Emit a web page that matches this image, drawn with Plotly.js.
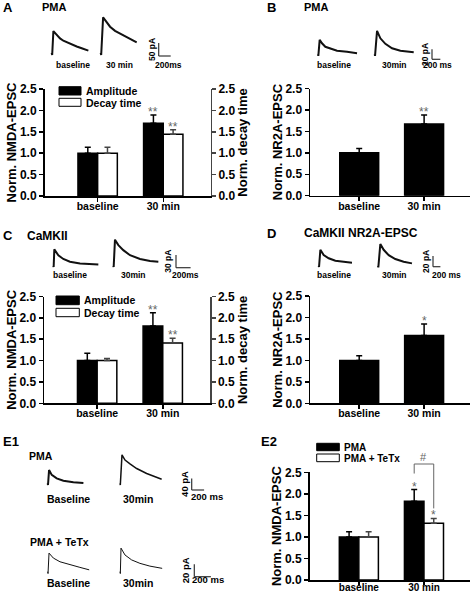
<!DOCTYPE html>
<html><head><meta charset="utf-8">
<script src="https://cdn.plot.ly/plotly-3.0.1.min.js"></script>
<style>html,body{margin:0;padding:0;background:#fff}</style>
</head><body><div id="chart" style="width:474px;height:594px"></div>
<script>
// ================= DATA =================
const categories = ['baseline', '30 min'];

// A: PMA, NMDA-EPSC amplitude and decay time (normalised)
const aAmplitude = [1.0, 1.70];
const aAmplitudeErr = [0.14, 0.19];
const aAmplitudeSig = ['', '**'];
const aDecay = [1.0, 1.44];
const aDecayErr = [0.14, 0.11];
const aDecaySig = ['', '**'];

// B: PMA, NR2A-EPSC
const bNR2A = [1.0, 1.67];
const bNR2AErr = [0.10, 0.21];
const bNR2ASig = ['', '**'];

// C: CaMKII, NMDA-EPSC amplitude and decay time
const cAmplitude = [1.0, 1.81];
const cAmplitudeErr = [0.17, 0.31];
const cAmplitudeSig = ['', '**'];
const cDecay = [1.0, 1.41];
const cDecayErr = [0.05, 0.11];
const cDecaySig = ['', '**'];

// D: CaMKII, NR2A-EPSC
const dNR2A = [1.0, 1.58];
const dNR2AErr = [0.11, 0.27];
const dNR2ASig = ['', '*'];

// E2: PMA vs PMA + TeTx
const e2PMA = [1.0, 1.83];
const e2PMAErr = [0.12, 0.27];
const e2PMASig = ['', '*'];
const e2TeTx = [1.0, 1.32];
const e2TeTxErr = [0.12, 0.11];
const e2TeTxSig = ['', '*'];

// Example EPSC traces (time in ms, current in pA, drawn upward as in the figure)
const aBase_ms = [0, 8, 28, 83, 139, 194, 250, 333, 417, 500, 611];
const aBase_pA = [0, -9, 83, 68, 55, 46, 40, 32, 24, 17, 8];
const a30_ms = [0, 8, 40, 100, 156, 239, 322, 433, 600];
const a30_pA = [0, -9, 136, 115, 100, 84, 74, 61, 40];
const bBase_ms = [0, 8, 40, 96, 176, 296, 456, 696, 936];
const bBase_pA = [0, -3, 29, 22, 15, 11, 7, 5, 2];
const b30_ms = [0, 8, 56, 136, 256, 416, 616, 936];
const b30_pA = [0, -3, 47, 32, 21, 12, 7, 4];
const cBase_ms = [0, 5, 14, 69, 137, 228, 366, 503, 617];
const cBase_pA = [0, -3, 39, 25, 16, 9.5, 5.5, 4, 3];
const c30_ms = [0, 5, 23, 69, 137, 229, 366, 503, 617];
const c30_pA = [0, -3, 62, 49, 37, 25, 16, 11, 9.5];
const dBase_ms = [0, 9, 45, 135, 270, 450, 675, 900];
const dBase_pA = [0, -2.5, 30, 20, 14, 9.5, 7.5, 5.7];
const d30_ms = [0, 9, 63, 153, 288, 468, 693, 918];
const d30_pA = [0, -3, 41, 30, 20, 12.6, 7.6, 4.4];
const e1PmaBase_ms = [0, 5, 22, 65, 145, 253, 414, 576];
const e1PmaBase_pA = [0, -6, 46, 29, 17, 9, 3.5, 1];
const e1Pma30_ms = [0, 5, 32, 81, 161, 269, 430, 672];
const e1Pma30_pA = [0, -6, 98, 80, 67, 51, 34, 14];
const e1TetxBase_ms = [0, 4, 16, 68, 148, 268, 388, 500];
const e1TetxBase_pA = [0, -3, 30, 22, 16, 11, 7, 3];
const e1Tetx30_ms = [0, 4, 12, 60, 140, 240, 360, 508];
const e1Tetx30_pA = [0, -3, 38, 27, 19, 13.5, 9, 5.4];

// ================= LAYOUT HELPERS =================
const W = 474, H = 594;
const F = 'Liberation Sans, Arial, Helvetica, sans-serif';
const px = v => v / W;
const py = v => 1 - v / H;
const xd = a => [px(a[0]), px(a[1])];
const yd = a => [py(a[1]), py(a[0])];   // [topPx, bottomPx]

const data = [];
const annotations = [];
const shapes = [];

const layout = {
  width: W, height: H,
  margin: {l: 0, r: 0, t: 0, b: 0, pad: 0},
  paper_bgcolor: '#ffffff', plot_bgcolor: 'rgba(0,0,0,0)',
  showlegend: false,
  font: {family: F, color: '#000'},
  annotations, shapes
};

function catAxis(domPx, range, anchor, extra) {
  return Object.assign({
    domain: xd(domPx), range: range, type: 'category', anchor: anchor,
    showline: true, linecolor: '#000', linewidth: 1.5,
    ticks: 'outside', ticklen: 4, tickwidth: 1.5, tickcolor: '#000', ticklabelstandoff: -4,
    tickfont: {family: F, size: 10.5, weight: 'bold', color: '#000'},
    showgrid: false, zeroline: false, fixedrange: true
  }, extra || {});
}
function valAxis(domPx, anchor, title, extra) {
  return Object.assign({
    domain: yd(domPx), range: [0, 2.5], anchor: anchor, tick0: 0, dtick: 0.5, tickformat: '.1f',
    showline: true, linecolor: '#000', linewidth: 1.5,
    ticks: 'outside', ticklen: 4, tickwidth: 1.5, tickcolor: '#000',
    tickfont: {family: F, size: 12, weight: 'bold', color: '#000'},
    showgrid: false, zeroline: false, fixedrange: true,
    title: {text: title, font: {family: F, size: 13, weight: 'bold', color: '#000'}, standoff: 0}
  }, extra || {});
}
function barTrace(vals, errs, xa, ya, fill, width, offset, errColor) {
  const t = {
    type: 'bar', x: categories, y: vals, xaxis: xa, yaxis: ya, width: width,
    marker: {color: fill, line: {color: '#000', width: 1.5}},
    error_y: {type: 'data', symmetric: false, array: errs, arrayminus: errs.map(() => 0),
              color: errColor, thickness: 1.5, width: 3},
    hoverinfo: 'skip'
  };
  if (offset !== null) t.offset = offset;
  return t;
}
function addSig(sig, vals, errs, shift, xref, yref) {
  sig.forEach((s, i) => {
    if (!s) return;
    annotations.push({xref: xref, yref: yref, x: i + shift, y: vals[i] + errs[i], text: s,
      showarrow: false, xanchor: 'center', yanchor: 'bottom', yshift: -6,
      font: {family: F, size: 12, color: '#666'}});
  });
}
function txt(text, xPx, yPx, size, opts) {
  return Object.assign({text: text, x: px(xPx), y: py(yPx), xref: 'paper', yref: 'paper',
    showarrow: false, xanchor: 'center', yanchor: 'middle',
    font: {family: F, size: size, weight: 'bold', color: '#000'}}, opts || {});
}
function rect(x0, y0, x1, y1, fill) {
  shapes.push({type: 'rect', xref: 'paper', yref: 'paper', x0: px(x0), x1: px(x1), y0: py(y1), y1: py(y0),
    fillcolor: fill, line: {color: '#000', width: 1}});
}
function lineShape(xref, yref, x0, y0, x1, y1, color, w) {
  shapes.push({type: 'line', xref: xref, yref: yref, x0: x0, y0: y0, x1: x1, y1: y1,
    line: {color: color, width: w}});
}

// ================= BAR PANELS =================
const wideRange = [-0.81, 1.72];
const narrowRange = [-0.758, 1.707];

// A
layout.xaxis = catAxis([44.5, 210.5], wideRange, 'y');
layout.yaxis = valAxis([89, 196], 'x', 'Norm. NMDA-EPSC');
layout.yaxis2 = valAxis([89, 196], 'x', 'Norm. decay time',
  {overlaying: 'y', side: 'right', linecolor: '#444', tickcolor: '#444'});
data.push(barTrace(aAmplitude, aAmplitudeErr, 'x', 'y', '#000', 0.3, -0.3, '#000'));
data.push(barTrace(aDecay, aDecayErr, 'x', 'y2', '#fff', 0.3, 0, '#444'));
addSig(aAmplitudeSig, aAmplitude, aAmplitudeErr, -0.15, 'x', 'y');
addSig(aDecaySig, aDecay, aDecayErr, 0.15, 'x', 'y2');

// B
layout.xaxis2 = catAxis([310, 470], narrowRange, 'y3');
layout.yaxis3 = valAxis([88.5, 195.7], 'x2', 'Norm. NR2A-EPSC');
data.push(barTrace(bNR2A, bNR2AErr, 'x2', 'y3', '#000', 0.6, null, '#000'));
addSig(bNR2ASig, bNR2A, bNR2AErr, 0, 'x2', 'y3');

// C
layout.xaxis3 = catAxis([44, 210], wideRange, 'y4');
layout.yaxis4 = valAxis([296.5, 403.3], 'x3', 'Norm. NMDA-EPSC');
layout.yaxis5 = valAxis([296.5, 403.3], 'x3', 'Norm. decay time',
  {overlaying: 'y4', side: 'right', linecolor: '#444', tickcolor: '#444'});
data.push(barTrace(cAmplitude, cAmplitudeErr, 'x3', 'y4', '#000', 0.3, -0.3, '#000'));
data.push(barTrace(cDecay, cDecayErr, 'x3', 'y5', '#fff', 0.3, 0, '#444'));
addSig(cAmplitudeSig, cAmplitude, cAmplitudeErr, -0.15, 'x3', 'y4');
addSig(cDecaySig, cDecay, cDecayErr, 0.15, 'x3', 'y5');

// D
layout.xaxis4 = catAxis([310, 470], narrowRange, 'y6');
layout.yaxis6 = valAxis([296, 403.3], 'x4', 'Norm. NR2A-EPSC');
data.push(barTrace(dNR2A, dNR2AErr, 'x4', 'y6', '#000', 0.6, null, '#000'));
addSig(dNR2ASig, dNR2A, dNR2AErr, 0, 'x4', 'y6');

// E2
const e2Top = 472.3, e2Bot = 580;
layout.xaxis5 = catAxis([309.5, 470], narrowRange, 'y7',
  {ticklen: 3, ticklabelstandoff: -6, tickfont: {family: F, size: 10, weight: 'bold', color: '#000'}});
layout.yaxis7 = valAxis([e2Top, e2Bot], 'x5', 'Norm. NMDA-EPSC');
data.push(barTrace(e2PMA, e2PMAErr, 'x5', 'y7', '#000', 0.3, -0.3, '#000'));
data.push(barTrace(e2TeTx, e2TeTxErr, 'x5', 'y7', '#fff', 0.3, 0, '#444'));
addSig(e2PMASig, e2PMA, e2PMAErr, -0.15, 'x5', 'y7');
addSig(e2TeTxSig, e2TeTx, e2TeTxErr, 0.15, 'x5', 'y7');
// '#' comparison bracket between the two 30 min bars
const e2ValPx = v => e2Bot - v * (e2Bot - e2Top) / 2.5;
const brTop = 464;
const brL = e2ValPx(e2PMA[1] + e2PMAErr[1]) - 16;
const brR = e2ValPx(e2TeTx[1] + e2TeTxErr[1]) - 10;
lineShape('x5', 'paper', 0.85, py(brTop), 1.15, py(brTop), '#666', 1);
lineShape('x5', 'paper', 0.85, py(brTop), 0.85, py(brL), '#666', 1);
lineShape('x5', 'paper', 1.15, py(brTop), 1.15, py(brR), '#666', 1);
annotations.push({xref: 'x5', yref: 'paper', x: 1, y: py(brTop), text: '#', showarrow: false,
  xanchor: 'center', yanchor: 'bottom', yshift: -1, font: {family: F, size: 11, color: '#666'}});

// ================= LEGENDS (drawn) =================
rect(59, 86.7, 81, 95, '#000'); rect(59, 98.3, 81, 106.3, '#fff');
annotations.push(txt('Amplitude', 84, 91, 10.5, {xanchor: 'left'}));
annotations.push(txt('Decay time', 84, 102.5, 10.5, {xanchor: 'left'}));
rect(56, 296, 79.3, 304.7, '#000'); rect(56, 308.3, 79.3, 316.7, '#fff');
annotations.push(txt('Amplitude', 81.5, 300.3, 10.5, {xanchor: 'left'}));
annotations.push(txt('Decay time', 81.5, 312.5, 10.5, {xanchor: 'left'}));
rect(316.7, 443.3, 339.3, 450.7, '#000'); rect(316.7, 454, 339.3, 461.7, '#fff');
annotations.push(txt('PMA', 342, 447, 10, {xanchor: 'left'}));
annotations.push(txt('PMA + TeTx', 342, 458, 10, {xanchor: 'left'}));

// ================= EPSC TRACES =================
const traceDefs = [
  {t: aBase_ms, i: aBase_pA, x0: 51.7, y0: 52.7, mx: 0.06, my: 0.26, w: 2},
  {t: a30_ms, i: a30_pA, x0: 100.7, y0: 52.7, mx: 0.06, my: 0.26, w: 2},
  {t: bBase_ms, i: bBase_pA, x0: 318, y0: 54.3, mx: 0.0417, my: 0.5, w: 2},
  {t: b30_ms, i: b30_pA, x0: 374.7, y0: 54.3, mx: 0.0417, my: 0.5, w: 2},
  {t: cBase_ms, i: cBase_pA, x0: 53.3, y0: 265.7, mx: 0.073, my: 0.42, w: 2},
  {t: c30_ms, i: c30_pA, x0: 113.3, y0: 265.7, mx: 0.073, my: 0.42, w: 2},
  {t: dBase_ms, i: dBase_pA, x0: 318.7, y0: 265.7, mx: 0.037, my: 0.53, w: 2},
  {t: d30_ms, i: d30_pA, x0: 378, y0: 265.7, mx: 0.037, my: 0.53, w: 2},
  {t: e1PmaBase_ms, i: e1PmaBase_pA, x0: 47.7, y0: 483.3, mx: 0.062, my: 0.29, w: 2},
  {t: e1Pma30_ms, i: e1Pma30_pA, x0: 120, y0: 483.3, mx: 0.062, my: 0.29, w: 1.5},
  {t: e1TetxBase_ms, i: e1TetxBase_pA, x0: 47.7, y0: 571.7, mx: 0.083, my: 0.62, w: 1},
  {t: e1Tetx30_ms, i: e1Tetx30_pA, x0: 120, y0: 571.7, mx: 0.083, my: 0.62, w: 1}
];
traceDefs.forEach((d, k) => {
  const xn = 6 + k, yn = 8 + k;
  layout['xaxis' + xn] = {domain: xd([d.x0 - 4, d.x0 + 50]), range: [-4 / d.mx, 50 / d.mx],
    anchor: 'y' + yn, visible: false, fixedrange: true};
  layout['yaxis' + yn] = {domain: yd([d.y0 - 45, d.y0 + 6]), range: [-6 / d.my, 45 / d.my],
    anchor: 'x' + xn, visible: false, fixedrange: true};
  data.push({type: 'scatter', mode: 'lines', x: d.t, y: d.i, xaxis: 'x' + xn, yaxis: 'y' + yn,
    line: {color: '#111', width: d.w}, hoverinfo: 'skip'});
});

// Scale bars (sizes follow each panel's trace scale)
const scaleDefs = [
  {x: 158.7, y: 56, mx: 0.06, my: 0.26, pA: 50, ms: 200, pL: '50 pA', mL: '200ms', pX: 151.5, mX: 168, mY: 64.7, fs: 8.5},
  {x: 432, y: 59.3, mx: 0.0417, my: 0.5, pA: 20, ms: 200, pL: '20 pA', mL: '200 ms', pX: 425.7, mX: 437.5, mY: 65.3, fs: 8.5},
  {x: 176, y: 267.7, mx: 0.073, my: 0.42, pA: 30, ms: 200, pL: '30 pA', mL: '200ms', pX: 168.3, mX: 185.8, mY: 275, fs: 8.5},
  {x: 433, y: 266.7, mx: 0.037, my: 0.53, pA: 20, ms: 200, pL: '20 pA', mL: '200 ms', pX: 426.5, mX: 446, mY: 275, fs: 8.5},
  {x: 191.7, y: 490, mx: 0.062, my: 0.29, pA: 40, ms: 200, pL: '40 pA', mL: '200 ms', pX: 184.7, mX: 206.8, mY: 496, fs: 9.5},
  {x: 194.3, y: 576.7, mx: 0.083, my: 0.62, pA: 20, ms: 200, pL: '20 pA', mL: '200 ms', pX: 185.7, mX: 207.7, mY: 579.8, fs: 9.5}
];
scaleDefs.forEach(s => {
  const hv = s.pA * s.my, hh = s.ms * s.mx;
  lineShape('paper', 'paper', px(s.x), py(s.y), px(s.x), py(s.y - hv), '#333', 1.2);
  lineShape('paper', 'paper', px(s.x), py(s.y), px(s.x + hh), py(s.y), '#333', 1.2);
  annotations.push(txt(s.pL, s.pX, s.y - hv / 2, s.fs, {textangle: -90}));
  annotations.push(txt(s.mL, s.mX, s.mY, s.fs));
});

// ================= TEXT LABELS =================
annotations.push(txt('A', 1, 7, 13, {xanchor: 'left'}));
annotations.push(txt('PMA', 40, 7, 11, {xanchor: 'left'}));
annotations.push(txt('B', 271, 7, 13));
annotations.push(txt('PMA', 302, 7, 11, {xanchor: 'left'}));
annotations.push(txt('C', 1, 236, 13, {xanchor: 'left'}));
annotations.push(txt('CaMKII', 25, 236, 12, {xanchor: 'left'}));
annotations.push(txt('D', 271, 233, 13));
annotations.push(txt('CaMKII NR2A-EPSC', 302, 233, 12, {xanchor: 'left'}));
annotations.push(txt('E1', 1, 441, 13, {xanchor: 'left'}));
annotations.push(txt('E2', 259, 441, 13, {xanchor: 'left'}));

annotations.push(txt('baseline', 73, 65, 8.5));
annotations.push(txt('30 min', 119.7, 65, 8.5));
annotations.push(txt('baseline', 334.2, 65, 8.5));
annotations.push(txt('30min', 394.2, 65, 8.5));
annotations.push(txt('baseline', 70.3, 275, 8.5));
annotations.push(txt('30min', 133.2, 275, 8.5));
annotations.push(txt('baseline', 334.2, 275, 8.5));
annotations.push(txt('30min', 394, 275, 8.5));
annotations.push(txt('PMA', 27, 455.5, 10.5, {xanchor: 'left'}));
annotations.push(txt('Baseline', 68, 499.3, 10.5));
annotations.push(txt('30min', 137.7, 499.3, 10.5));
annotations.push(txt('PMA + TeTx', 28.3, 541.7, 10.5, {xanchor: 'left'}));
annotations.push(txt('Baseline', 68, 583, 10.5));
annotations.push(txt('30min', 137.7, 583, 10.5));

Plotly.newPlot('chart', data, layout, {staticPlot: true, displayModeBar: false});
</script>
</body></html>
